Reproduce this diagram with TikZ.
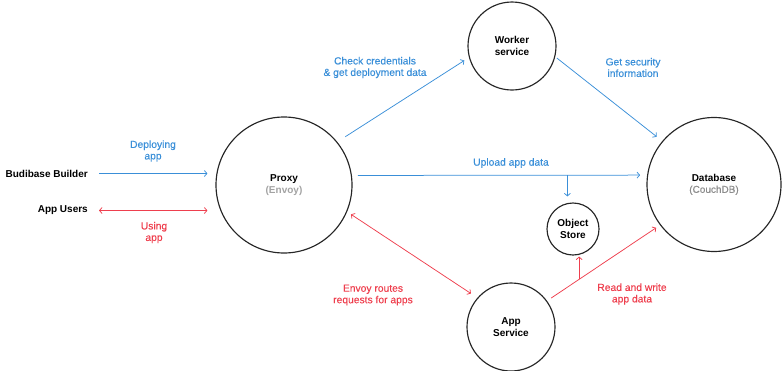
\documentclass[tikz,border=0pt]{standalone}
\usepackage{fontspec}
\setmainfont{Liberation Sans}
\newfontfamily\notefont[FakeBold=0.35]{Liberation Sans}
\usetikzlibrary{arrows.meta}
\definecolor{flowblue}{HTML}{3A8FD8}
\definecolor{flowred}{HTML}{EE3F4E}
\definecolor{subgray}{HTML}{A3A3A3}
\definecolor{dbgray}{HTML}{8C8C8C}
\tikzset{
  flowtip/.tip={Straight Barb[length=2.6pt,width=6pt]},
  service/.style={draw=black!85, line width=1.15pt, circle, inner sep=0pt,
    align=center, font=\fontsize{10}{11.5}\selectfont\bfseries},
  actor/.style={font=\fontsize{10}{11.5}\selectfont\bfseries, inner sep=0pt},
  note/.style={align=center, font=\notefont\fontsize{10.3}{11.5}\selectfont, inner sep=0pt},
  bluelink/.style={draw=flowblue, line width=0.75pt, -{flowtip}},
  redlink/.style={draw=flowred, line width=0.75pt, -{flowtip}},
  redboth/.style={draw=flowred, line width=0.75pt, {flowtip}-{flowtip}},
}
\begin{document}
\begin{tikzpicture}[x=1pt,y=-1pt]
\useasboundingbox (0,0) rectangle (784,370);

% services
\node[service, minimum size=136pt] (proxy)  at (284,185)   {Proxy\\{\color{subgray}(Envoy)}};
\node[service, minimum size=88pt]  (worker) at (512,46)    {Worker\\service};
\node[service, minimum size=134pt] (db)     at (714,184.5) {Database\\{\mdseries\notefont\color{dbgray}(CouchDB)}};
\node[service, minimum size=52pt]  (obj)    at (573,229)   {Object\\Store};
\node[service, minimum size=88pt]  (app)    at (511,327)   {App\\Service};

% external actors
\node[actor, anchor=east] (builder) at (88,173.5) {Budibase Builder};
\node[actor, anchor=east] (users)   at (88,210.5) {App Users};

% actor connections
\draw[bluelink, shorten <=11pt, shorten >=8pt] (builder.east) -- (builder.east -| proxy.west);
\draw[redboth,  shorten <=11pt, shorten >=8pt] (users.east) -- (users.east -| proxy.west);
\node[note, text=flowblue] (deploy) at (153,151) {Deploying\\app};
\node[note, text=flowred]  (using)  at (154,232.5) {Using\\app};

% proxy to worker
\draw[bluelink, shorten <=9.5pt, shorten >=5.5pt] (proxy.39) -- (worker.-165);
\node[note, text=flowblue] (check) at (375,67.5) {Check credentials\\\& get deployment data};

% worker to database
\draw[bluelink, shorten <=2pt, shorten >=7pt] (worker.-14) -- (db.140);
\node[note, text=flowblue] (secinfo) at (633,67.5) {Get security\\information};

% upload path with branch to the object store
\draw[bluelink, shorten <=6pt, shorten >=7pt] (proxy.8.5) -- (db.172) coordinate[pos=0.73] (upbranch);
\node[note, text=flowblue] (upload) at (511,163) {Upload app data};
\draw[bluelink, shorten >=6pt] (upbranch) -- (upbranch |- obj.north);

% proxy routes to app service
\draw[redboth, shorten <=4.6pt, shorten >=7.7pt] (proxy.-23) -- (app.139);
\node[note, text=flowred] (routes) at (373,295) {Envoy routes\\requests for apps};

% app service reads and writes data
\draw[redlink, shorten <=5pt, shorten >=4.7pt] (app.36) -- (db.-143) coordinate[pos=0.284] (rwbranch);
\draw[redlink, shorten >=1pt] (rwbranch) -- (rwbranch |- obj.south);
\node[note, text=flowred] (rw) at (632,294) {Read and write\\app data};
\end{tikzpicture}
\end{document}
